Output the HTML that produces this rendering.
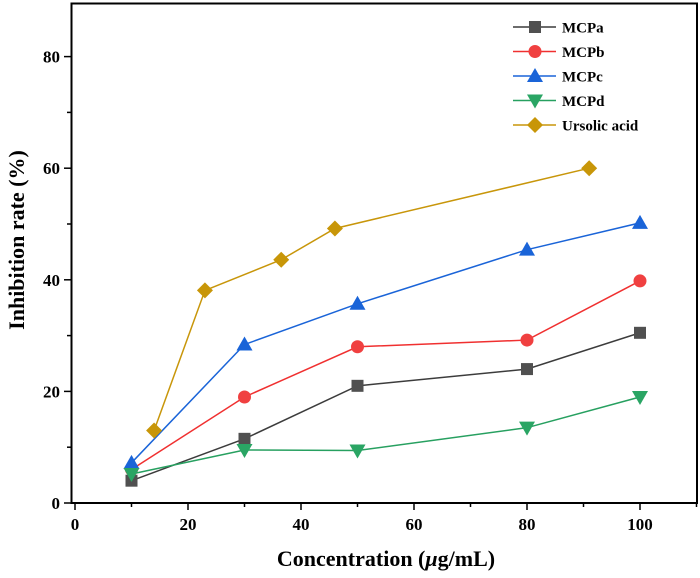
<!DOCTYPE html>
<html><head><meta charset="utf-8"><style>
body{margin:0;background:#fff}
svg{display:block;font-family:"Liberation Serif",serif;font-weight:bold}
</style></head><body>
<svg width="700" height="578" viewBox="0 0 700 578" id="c"></svg>
<script>
const categories=["MCPa","MCPb","MCPc","MCPd","Ursolic acid"];
const xA=[10,30,50,80,100];
const xU=[14,23,36.5,46,91];
const vA=[4,11.5,21,24,30.5];
const vB=[6,19,28,29.2,39.8];
const vC=[7.2,28.4,35.7,45.4,50.2];
const vD=[5.2,9.5,9.4,13.5,19];
const vU=[13,38.1,43.6,49.2,60];
const xTicks=[0,20,40,60,80,100];
const yTicks=[0,20,40,60,80];
const NS="http://www.w3.org/2000/svg";
const svg=document.getElementById('c');
const X=v=>75+v*5.65, Y=v=>503-v*5.58;
function el(t,a,p){const e=document.createElementNS(NS,t);for(const k in a)e.setAttribute(k,a[k]);(p||svg).appendChild(e);return e;}
const frame=el('rect',{x:71.5,y:3.5,width:625.5,height:499.5,fill:'none',stroke:'#000','stroke-width':2});

for(let v=0;v<=110;v+=10){const maj=v%20==0;const t=el('line',{x1:X(v),x2:X(v),y1:503,y2:503+(maj?7:4),stroke:'#000','stroke-width':1.5});
}
for(let v=0;v<=80;v+=10){const maj=v%20==0;const t=el('line',{x1:71,x2:71-(maj?7:4),y1:Y(v),y2:Y(v),stroke:'#000','stroke-width':1.5});
}
xTicks.forEach(v=>{const t=el('text',{x:X(v),y:530,'text-anchor':'middle','font-size':17});t.textContent=v;
});
yTicks.forEach(v=>{const t=el('text',{x:60,y:Y(v)+6,'text-anchor':'end','font-size':17});t.textContent=v;
});
const xt=el('text',{x:386,y:566,'text-anchor':'middle','font-size':22});xt.innerHTML='Concentration (<tspan font-style="italic">μ</tspan>g/mL)';

const yt=el('text',{x:0,y:0,'text-anchor':'middle','font-size':22,transform:'translate(24,240) rotate(-90)'});yt.textContent='Inhibition rate (%)';

const series=[[xA,vA,'#3c3c3c','#505050','sq'],[xA,vB,'#f03030','#f04040','ci'],[xA,vC,'#1a64d8','#1a64d8','up'],[xA,vD,'#27a060','#2aa564','dn'],[xU,vU,'#c8960a','#c89608','di']];
function marker(g,type,cx,cy,fill){let m;
if(type=='sq')m=el('rect',{x:cx-6,y:cy-6,width:12,height:12,fill},g);
else if(type=='ci')m=el('circle',{cx,cy,r:6.5,fill},g);
else if(type=='up')m=el('polygon',{points:`${cx},${cy-8} ${cx-8},${cy+6} ${cx+8},${cy+6}`,fill},g);
else if(type=='dn')m=el('polygon',{points:`${cx},${cy+8} ${cx-8},${cy-6} ${cx+8},${cy-6}`,fill},g);
else m=el('polygon',{points:`${cx},${cy-8} ${cx+8},${cy} ${cx},${cy+8} ${cx-8},${cy}`,fill},g);
}
series.forEach((s,i)=>{const g=el('g',{});

const l=el('polyline',{points:s[0].map((x,j)=>X(x)+','+Y(s[1][j])).join(' '),fill:'none',stroke:s[2],'stroke-width':1.5},g);

s[0].forEach((x,j)=>marker(g,s[4],X(x),Y(s[1][j]),s[3]));
const ly=27+i*24.5;const lg=el('g',{},svg);

el('line',{x1:513,x2:556,y1:ly,y2:ly,stroke:s[2],'stroke-width':1.5},lg);
marker(lg,s[4],535,ly,s[3]);
const t=el('text',{x:562,y:ly+5.5,'font-size':15},lg);t.textContent=categories[i];});
</script>
</body></html>
